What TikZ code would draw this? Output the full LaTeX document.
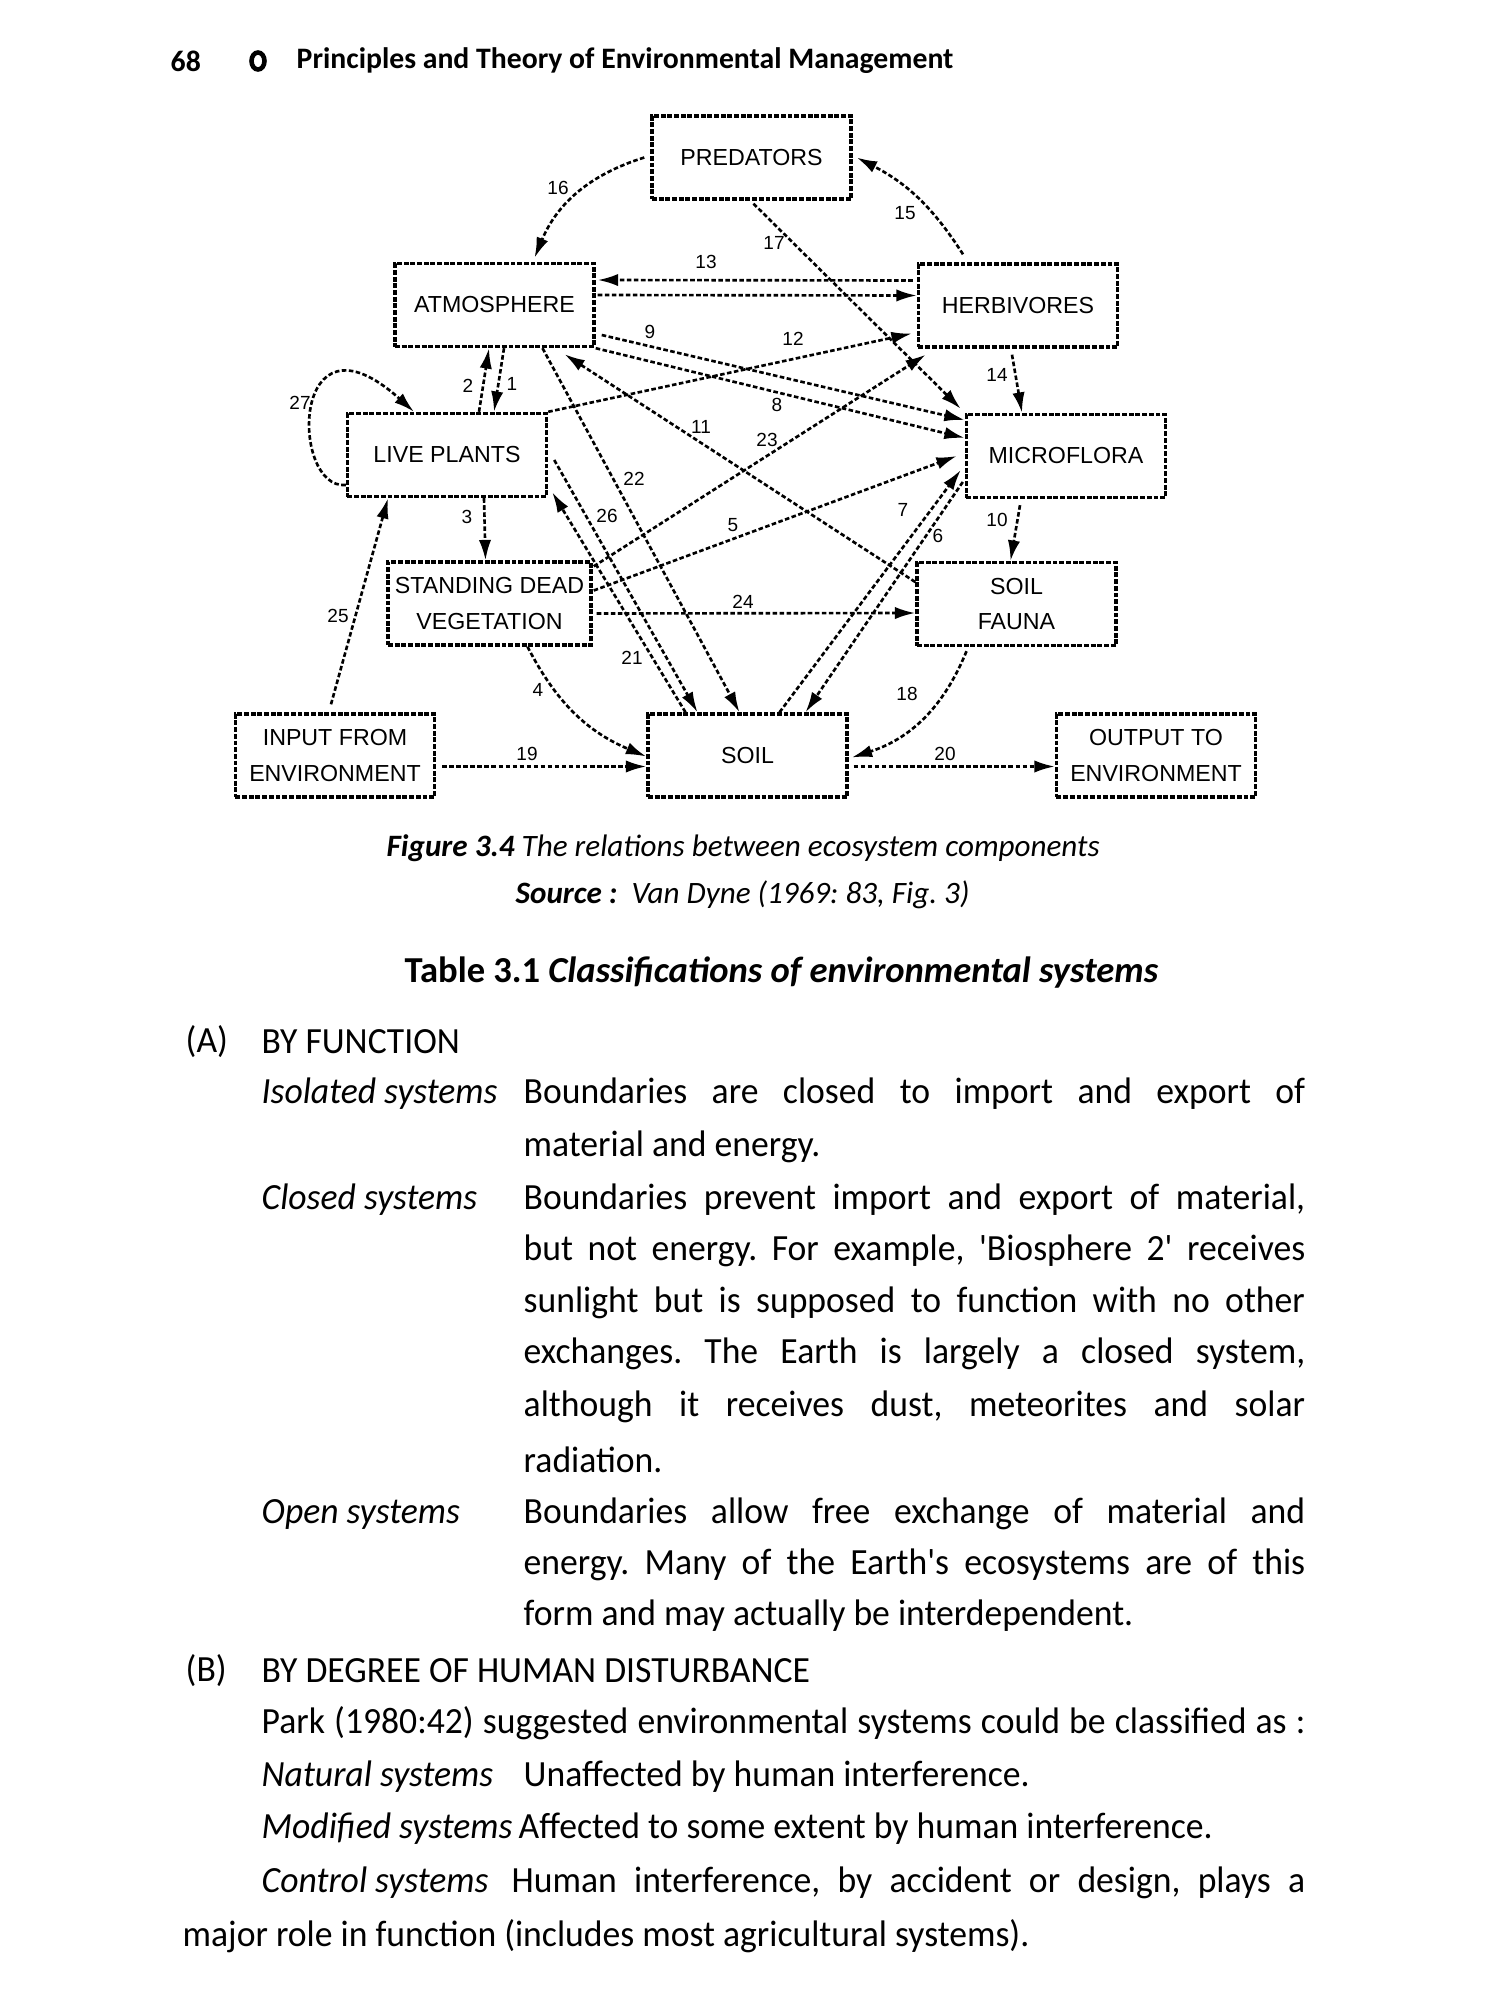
\documentclass[tikz,border=0pt]{standalone}
\usepackage{fontspec}
\setmainfont{Carlito}[Ligatures=TeXOff]
\newfontfamily\bodyfont{Carlito}[Ligatures=TeXOff, FakeStretch=0.965]
\newfontfamily\figfont{Liberation Sans}
\usetikzlibrary{arrows.meta,calc}
\frenchspacing

\newcommand{\justline}[2]{\makebox[#1][s]{#2}}

\tikzset{
  comp/.style={draw, line width=0.95pt, dash pattern=on 1.4pt off 0.5pt,
    minimum width=1.99cm, minimum height=0.83cm, inner sep=0pt, align=center,
    font=\figfont\fontsize{6.6}{10}\selectfont},
  flow/.style={line width=0.75pt, dash pattern=on 1.3pt off 0.7pt,
    -{Latex[length=5.8pt,width=3.5pt]}},
  num/.style={font=\figfont\fontsize{5.4}{6}\selectfont, inner sep=0pt},
  txt/.style={anchor=west, inner sep=0pt, font=\bodyfont\fontsize{10.5}{12}\selectfont},
}

\begin{document}
\begin{tikzpicture}[x=0.01cm,y=-0.01cm]
    \useasboundingbox (0,0) rectangle (1500,2000);

    % 页眉
    \node[anchor=west, inner sep=0pt, font=\bfseries\fontsize{8.45}{10}\selectfont] (pageno) at (170,61) {68};
    \draw[line width=1.3pt] (258,61) ellipse [x radius=6.5,y radius=8.5];
    \node[anchor=west, inner sep=0pt, font=\bfseries\fontsize{8.45}{10}\selectfont] (runhead) at (296,61) {Principles and Theory of Environmental Management};

    % 方框
    \node[comp] (pred) at (751.5,157.5) {PREDATORS};
    \node[comp] (atm) at (494.5,305) {ATMOSPHERE};
    \node[comp] (herb) at (1018,305.5) {HERBIVORES};
    \node[comp] (live) at (447,455) {LIVE PLANTS};
    \node[comp] (micro) at (1066,456) {MICROFLORA};
    \node[comp, minimum width=2.03cm] (dead) at (489.5,603.5) {STANDING DEAD\\VEGETATION};
    \node[comp] (fauna) at (1016.5,604) {SOIL\\FAUNA};
    \node[comp] (input) at (335,755.5) {INPUT FROM\\ENVIRONMENT};
    \node[comp] (soil) at (747.5,755.5) {SOIL};
    \node[comp] (output) at (1156,755.5) {OUTPUT TO\\ENVIRONMENT};

    % 流向
    \draw[flow] ($(atm.south)+(9.5,0)$) -- ($(live.north)+(47,0)$);
    \draw[flow] ($(live.north)+(32,0)$) -- ($(atm.south)+(-5.5,0)$);
    \draw[flow] ($(live.south)+(37,0)$) -- ($(dead.north)+(-4,0)$);
    \draw[flow] ($(dead.south)+(38,0)$) to[bend right=20] ($(soil.west)+(0,1)$);
    \draw[flow] ($(dead.east)+(1,-13)$) -- ($(micro.west)+(-8,0)$);
    \draw[flow] ($(micro.west)+(-2,26)$) -- ($(soil.north)+(58,0)$);
    \draw[flow] ($(soil.north)+(32,0)$) -- ($(micro.west)+(-4,14)$);
    \draw[flow] (atm.south east) -- ($(micro.west)+(0,-18)$);
    \draw[flow] ($(atm.east)+(6,30)$) -- ($(micro.west)+(0,-36)$);
    \draw[flow] ($(micro.south)+(-46,6)$) -- ($(fauna.north)+(-6,0)$);
    \draw[flow] ($(fauna.west)+(0,-22)$) -- ($(atm.south)+(70,6)$);
    \draw[flow] (live.north east) -- ($(herb.west)+(-5,28)$);
    \draw[flow] ($(herb.west)+(-4,-25)$) -- ($(atm.east)+(2,-25)$);
    \draw[flow] ($(atm.east)+(2,-10)$) -- ($(herb.west)+(0,-10)$);
    \draw[flow] ($(herb.south)+(-6,6)$) -- ($(micro.north)+(-44,0)$);
    \draw[flow] ($(herb.north)+(-55,-8)$) to[bend right=15] ($(pred.east)+(4,0)$);
    \draw[flow] ($(pred.west)+(-6,0)$) to[bend right=25] ($(atm.north)+(40,-4)$);
    \draw[flow] ($(pred.south)+(2,3)$) -- ($(micro.north west)+(-4,-4)$);
    \draw[flow] ($(fauna.south)+(-50,4)$) to[bend left=25] ($(soil.east)+(3,2)$);
    \draw[flow] ($(input.east)+(6,11)$) -- ($(soil.west)+(0,11)$);
    \draw[flow] ($(soil.east)+(5,11)$) -- ($(output.west)+(0,11)$);
    \draw[flow] ($(live.east)+(6,5)$) -- ($(soil.north)+(-50,0)$);
    \draw[flow] ($(atm.south)+(48,0)$) -- ($(soil.north)+(-8,0)$);
    \draw[flow] ($(dead.north east)+(1,6)$) -- ($(herb.south west)+(9,6)$);
    \draw[flow] ($(dead.east)+(4,10)$) -- ($(fauna.west)+(0,9)$);
    \draw[flow] ($(input.north)+(-4,-8)$) -- ($(live.south)+(-59,0)$);
    \draw[flow] ($(soil.north)+(-62,0)$) -- ($(live.south east)+(4,-6)$);
    \draw[flow] ($(live.west)+(0,30)$) .. controls (290,490) and (290,300) .. ($(live.north)+(-33,0)$);

    % 编号
    \node[num] (n1) at (512,384) {1};
    \node[num] (n2) at (468,386) {2};
    \node[num] (n3) at (467,517) {3};
    \node[num] (n4) at (538,690) {4};
    \node[num] (n5) at (733,525) {5};
    \node[num] (n6) at (938,536) {6};
    \node[num] (n7) at (903,510) {7};
    \node[num] (n8) at (777,405) {8};
    \node[num] (n9) at (650,332) {9};
    \node[num] (n10) at (997,520) {10};
    \node[num] (n11) at (701,427) {11};
    \node[num] (n12) at (793,339) {12};
    \node[num] (n13) at (706,262) {13};
    \node[num] (n14) at (997,375) {14};
    \node[num] (n15) at (905,213) {15};
    \node[num] (n16) at (558,188) {16};
    \node[num] (n17) at (774,243) {17};
    \node[num] (n18) at (907,694) {18};
    \node[num] (n19) at (527,754) {19};
    \node[num] (n20) at (945,754) {20};
    \node[num] (n21) at (632,658) {21};
    \node[num] (n22) at (634,479) {22};
    \node[num] (n23) at (767,440) {23};
    \node[num] (n24) at (743,602) {24};
    \node[num] (n25) at (338,616) {25};
    \node[num] (n26) at (607,516) {26};
    \node[num] (n27) at (300,403) {27};

    % 图题
    \node[anchor=west, inner sep=0pt, font=\itshape\fontsize{8.85}{10}\selectfont] (figcap) at (386,848) {\textbf{Figure 3.4} The relations between ecosystem components};
    \node[anchor=west, inner sep=0pt, font=\itshape\fontsize{8.85}{10}\selectfont] (source) at (515,895) {\textbf{Source :}\ \ Van Dyne (1969: 83, Fig. 3)};
    \node[anchor=west, inner sep=0pt, font=\bfseries\fontsize{10.4}{12}\selectfont] (tabcap) at (404,973) {Table 3.1 \textit{Classifications of environmental systems}};

    % 正文
    \node[txt] (la) at (185,1042) {(A)};
    \node[txt] (ha) at (261,1042) {BY FUNCTION};
    \node[txt] (iso) at (261,1094) {\itshape Isolated systems};
    \node[txt] (iso1) at (523,1094) {\justline{7.81cm}{Boundaries are closed to import and export of}};
    \node[txt] (iso2) at (523,1147) {material and energy.};
    \node[txt] (clo) at (261,1200) {\itshape Closed systems};
    \node[txt] (clo1) at (523,1200) {\justline{7.81cm}{Boundaries prevent import and export of material,}};
    \node[txt] (clo2) at (523,1251) {\justline{7.81cm}{but not energy. For example, 'Biosphere 2' receives}};
    \node[txt] (clo3) at (523,1303) {\justline{7.81cm}{sunlight but is supposed to function with no other}};
    \node[txt] (clo4) at (523,1354) {\justline{7.81cm}{exchanges. The Earth is largely a closed system,}};
    \node[txt] (clo5) at (523,1407) {\justline{7.81cm}{although it receives dust, meteorites and solar}};
    \node[txt] (clo6) at (523,1460) {radiation.};
    \node[txt] (ope) at (261,1514) {\itshape Open systems};
    \node[txt] (ope1) at (523,1514) {\justline{7.81cm}{Boundaries allow free exchange of material and}};
    \node[txt] (ope2) at (523,1565) {\justline{7.81cm}{energy. Many of the Earth's ecosystems are of this}};
    \node[txt] (ope3) at (523,1616) {form and may actually be interdependent.};
    \node[txt] (lb) at (185,1671) {(B)};
    \node[txt] (hb) at (261,1671) {BY DEGREE OF HUMAN DISTURBANCE};
    \node[txt] (park) at (261,1723) {\justline{10.43cm}{Park (1980:42) suggested environmental systems could be classified as :}};
    \node[txt] (nat) at (261,1777) {\itshape Natural systems};
    \node[txt] (nat1) at (523,1777) {Unaffected by human interference.};
    \node[txt] (mod) at (261,1829) {\itshape Modified systems};
    \node[txt] (mod1) at (518,1829) {Affected to some extent by human interference.};
    \node[txt] (con) at (261,1883) {\itshape Control systems};
    \node[txt] (con1) at (511,1883) {\justline{7.93cm}{Human interference, by accident or design, plays a}};
    \node[txt] (con2) at (182,1936) {major role in function (includes most agricultural systems).};
\end{tikzpicture}
\end{document}
